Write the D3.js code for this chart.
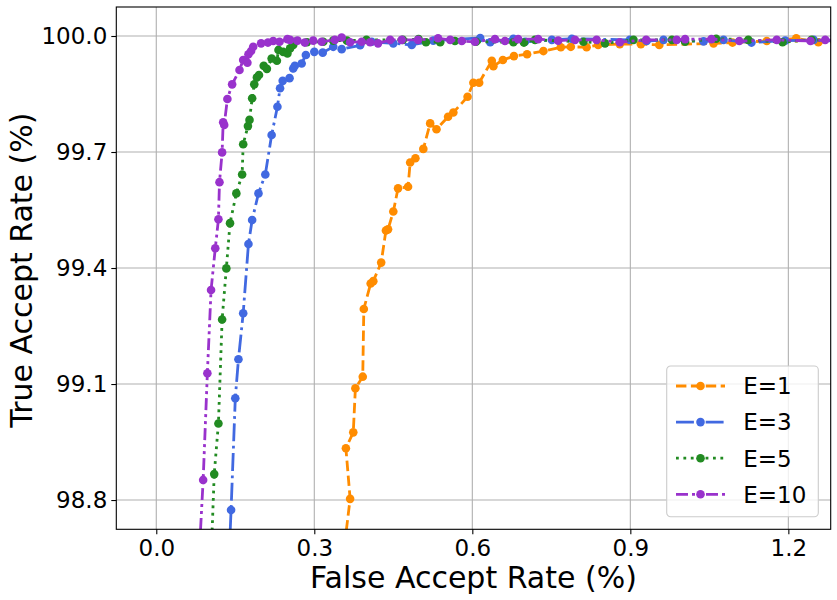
<!DOCTYPE html>
<html>
<head>
<meta charset="utf-8">
<script src="https://cdn.jsdelivr.net/npm/d3@7"></script>
<style>
  body { margin: 0; background: #fff; }
  svg { font-family: "DejaVu Sans", sans-serif; }
</style>
</head>
<body>
<svg id="chart" width="837" height="600"></svg>
<script>
// values (FAR %, TAR %)
const e1Far = [0.354,0.368,0.360,0.374,0.378,0.392,0.394,0.407,0.412,0.427,
  0.436,0.440,0.450,0.459,0.478,0.482,0.492,0.507,0.520,0.532,
  0.554,0.564,0.591,0.602,0.613,0.637,0.640,0.658,0.679,0.704,
  0.735,0.768,0.787,0.817,0.839,0.880,0.920,0.955,1.058,1.094,
  1.159,1.215,1.257,1.300];
const e1Tar = [98.645,98.803,98.934,98.975,99.089,99.119,99.294,99.360,99.366,99.414,
  99.497,99.500,99.546,99.606,99.610,99.673,99.684,99.708,99.774,99.759,
  99.791,99.802,99.843,99.879,99.879,99.936,99.922,99.938,99.948,99.953,
  99.961,99.971,99.972,99.971,99.977,99.979,99.979,99.977,99.981,99.983,
  99.987,99.994,99.984,99.986];

const e3Far = [0.138,0.142,0.150,0.156,0.165,0.175,0.182,0.194,0.207,0.219,
  0.230,0.235,0.240,0.253,0.260,0.263,0.276,0.284,0.300,0.316,
  0.336,0.352,0.387,0.409,0.450,0.485,0.526,0.615,0.634,0.678,
  0.700,0.751,0.789,0.899,0.931,0.963,1.039,1.077,1.130,1.194,
  1.248,1.290];
const e3Tar = [98.645,98.774,99.063,99.164,99.283,99.462,99.524,99.593,99.642,99.744,
  99.817,99.865,99.884,99.891,99.916,99.923,99.929,99.951,99.959,99.957,
  99.972,99.966,99.976,99.985,99.981,99.977,99.988,99.995,99.984,99.993,
  99.985,99.990,99.993,99.990,99.987,99.990,99.986,99.990,99.983,99.988,
  99.990,99.987];

const e5Far = [0.104,0.110,0.118,0.125,0.133,0.140,0.152,0.163,0.165,0.174,
  0.177,0.182,0.186,0.191,0.195,0.204,0.210,0.219,0.229,0.232,
  0.241,0.249,0.254,0.260,0.263,0.286,0.317,0.336,0.362,0.399,
  0.468,0.498,0.512,0.539,0.567,0.607,0.678,0.698,0.719,0.811,
  0.852,0.906,0.979,1.004,1.063,1.124,1.189,1.244,1.290];
const e5Tar = [98.645,98.867,98.998,99.267,99.399,99.516,99.593,99.642,99.720,99.767,
  99.783,99.839,99.875,99.893,99.899,99.923,99.915,99.942,99.936,99.964,
  99.959,99.955,99.968,99.977,99.985,99.984,99.985,99.988,99.988,99.990,
  99.990,99.992,99.984,99.984,99.987,99.985,99.984,99.983,99.990,99.985,
  99.981,99.990,99.990,99.985,99.993,99.990,99.984,99.990,99.988];

const e10Far = [0.081,0.089,0.097,0.104,0.112,0.118,0.120,0.125,0.127,0.129,
  0.135,0.144,0.158,0.165,0.173,0.175,0.180,0.184,0.199,0.212,
  0.222,0.234,0.249,0.254,0.268,0.282,0.298,0.314,0.339,0.352,
  0.368,0.390,0.406,0.421,0.444,0.466,0.497,0.535,0.558,0.580,
  0.605,0.643,0.662,0.687,0.725,0.763,0.795,0.836,0.880,0.930,
  0.988,1.004,1.054,1.107,1.178,1.242,1.270,1.300];
const e10Tar = [98.645,98.852,99.128,99.343,99.451,99.526,99.622,99.699,99.777,99.770,
  99.837,99.875,99.912,99.938,99.931,99.953,99.961,99.972,99.981,99.983,
  99.987,99.985,99.992,99.990,99.988,99.983,99.988,99.985,99.990,99.996,
  99.984,99.985,99.984,99.981,99.990,99.990,99.990,99.994,99.990,99.987,
  99.985,99.992,99.987,99.992,99.992,99.988,99.990,99.990,99.984,99.990,
  99.990,99.992,99.992,99.987,99.990,99.987,99.990,99.988];

const seriesNames = ["E=1", "E=3", "E=5", "E=10"];
const xTicks = [0.0, 0.3, 0.6, 0.9, 1.2];
const yTicks = [98.8, 99.1, 99.4, 99.7, 100.0];

const width = 837;
const height = 600;
const margin = { top: 7, right: 6.3, bottom: 70.7, left: 116.3 };
const innerW = width - margin.left - margin.right;
const innerH = height - margin.top - margin.bottom;

const series = [
  { name: seriesNames[0], far: e1Far, tar: e1Tar, color: "#ff8c00", dash: "10.4,4.5" },
  { name: seriesNames[1], far: e3Far, tar: e3Tar, color: "#4169e1", dash: "17.9,4.5,2.8,4.5" },
  { name: seriesNames[2], far: e5Far, tar: e5Tar, color: "#228b22", dash: "2.8,4.6" },
  { name: seriesNames[3], far: e10Far, tar: e10Tar, color: "#9932cc", dash: "12,4,3,4,3,4" },
];

const svg = d3.select("#chart");
svg.append("rect").attr("width", width).attr("height", height).attr("fill", "#fff");

const x = d3.scaleLinear().domain([-0.0759, 1.2804]).range([0, innerW]);
const y = d3.scaleLinear().domain([98.7243, 100.075]).range([innerH, 0]);

const g = svg.append("g").attr("transform", `translate(${margin.left},${margin.top})`);

svg.append("defs")
  .append("clipPath")
  .attr("id", "plotClip")
  .append("rect")
  .attr("width", innerW)
  .attr("height", innerH);

// grid
g.append("g")
  .selectAll("line")
  .data(xTicks)
  .enter()
  .append("line")
  .attr("x1", (d) => x(d))
  .attr("x2", (d) => x(d))
  .attr("y1", 0)
  .attr("y2", innerH)
  .attr("stroke", "#b0b0b0")
  .attr("stroke-width", 1.1);

g.append("g")
  .selectAll("line")
  .data(yTicks)
  .enter()
  .append("line")
  .attr("x1", 0)
  .attr("x2", innerW)
  .attr("y1", (d) => y(d))
  .attr("y2", (d) => y(d))
  .attr("stroke", "#b0b0b0")
  .attr("stroke-width", 1.1);

// curves
const plot = g.append("g").attr("clip-path", "url(#plotClip)");
const line = d3
  .line()
  .x((d) => x(d[0]))
  .y((d) => y(d[1]));

series.forEach((s) => {
  const pts = s.far.map((f, i) => [f, s.tar[i]]);
  const sg = plot.append("g");
  sg.append("path")
    .datum(pts)
    .attr("d", line)
    .attr("fill", "none")
    .attr("stroke", s.color)
    .attr("stroke-width", 2.8)
    .attr("stroke-dasharray", s.dash);
  sg.selectAll("circle")
    .data(pts)
    .enter()
    .append("circle")
    .attr("cx", (d) => x(d[0]))
    .attr("cy", (d) => y(d[1]))
    .attr("r", 4.3)
    .attr("fill", s.color);
});

// axes
const xAxis = g.append("g")
  .attr("transform", `translate(0,${innerH})`)
  .call(d3.axisBottom(x).tickValues(xTicks).tickFormat(d3.format(".1f")).tickSizeInner(5).tickSizeOuter(0).tickPadding(5));
const yAxis = g.append("g")
  .call(d3.axisLeft(y).tickValues(yTicks).tickFormat(d3.format(".1f")).tickSizeInner(5).tickSizeOuter(0).tickPadding(4));

[xAxis, yAxis].forEach((ax) => {
  ax.select(".domain").remove();
  ax.selectAll(".tick line").attr("stroke", "#000").attr("stroke-width", 1.1);
  ax.selectAll(".tick text")
    .attr("fill", "#000")
    .style("font-family", "DejaVu Sans")
    .style("font-size", "23px");
});

// frame
g.append("rect")
  .attr("width", innerW)
  .attr("height", innerH)
  .attr("fill", "none")
  .attr("stroke", "#000")
  .attr("stroke-width", 1.1);

// axis labels
svg.append("text")
  .attr("x", margin.left + innerW / 2)
  .attr("y", 588)
  .attr("text-anchor", "middle")
  .style("font-size", "30px")
  .text("False Accept Rate (%)");

svg.append("text")
  .attr("transform", `translate(31.5,${margin.top + innerH / 2 + 2}) rotate(-90)`)
  .attr("text-anchor", "middle")
  .style("font-size", "30px")
  .text("True Accept Rate (%)");

// legend
const legend = svg.append("g").attr("transform", "translate(666.7,366)");
legend.append("rect")
  .attr("width", 151.6)
  .attr("height", 150.7)
  .attr("rx", 4)
  .attr("fill", "#fff")
  .attr("fill-opacity", 0.8)
  .attr("stroke", "#cccccc")
  .attr("stroke-width", 1.1);

const item = legend
  .selectAll(".item")
  .data(series)
  .enter()
  .append("g")
  .attr("class", "item")
  .attr("transform", (d, i) => `translate(0,${20 + i * 36.1})`);

item.append("line")
  .attr("x1", 9.3)
  .attr("x2", 58.3)
  .attr("stroke", (d) => d.color)
  .attr("stroke-width", 2.8)
  .attr("stroke-dasharray", (d) => d.dash);
item.append("circle")
  .attr("cx", 33.8)
  .attr("r", 4.3)
  .attr("fill", (d) => d.color);
item.append("text")
  .attr("x", 76.5)
  .attr("y", 8.3)
  .style("font-size", "23px")
  .text((d) => d.name);
</script>
</body>
</html>
